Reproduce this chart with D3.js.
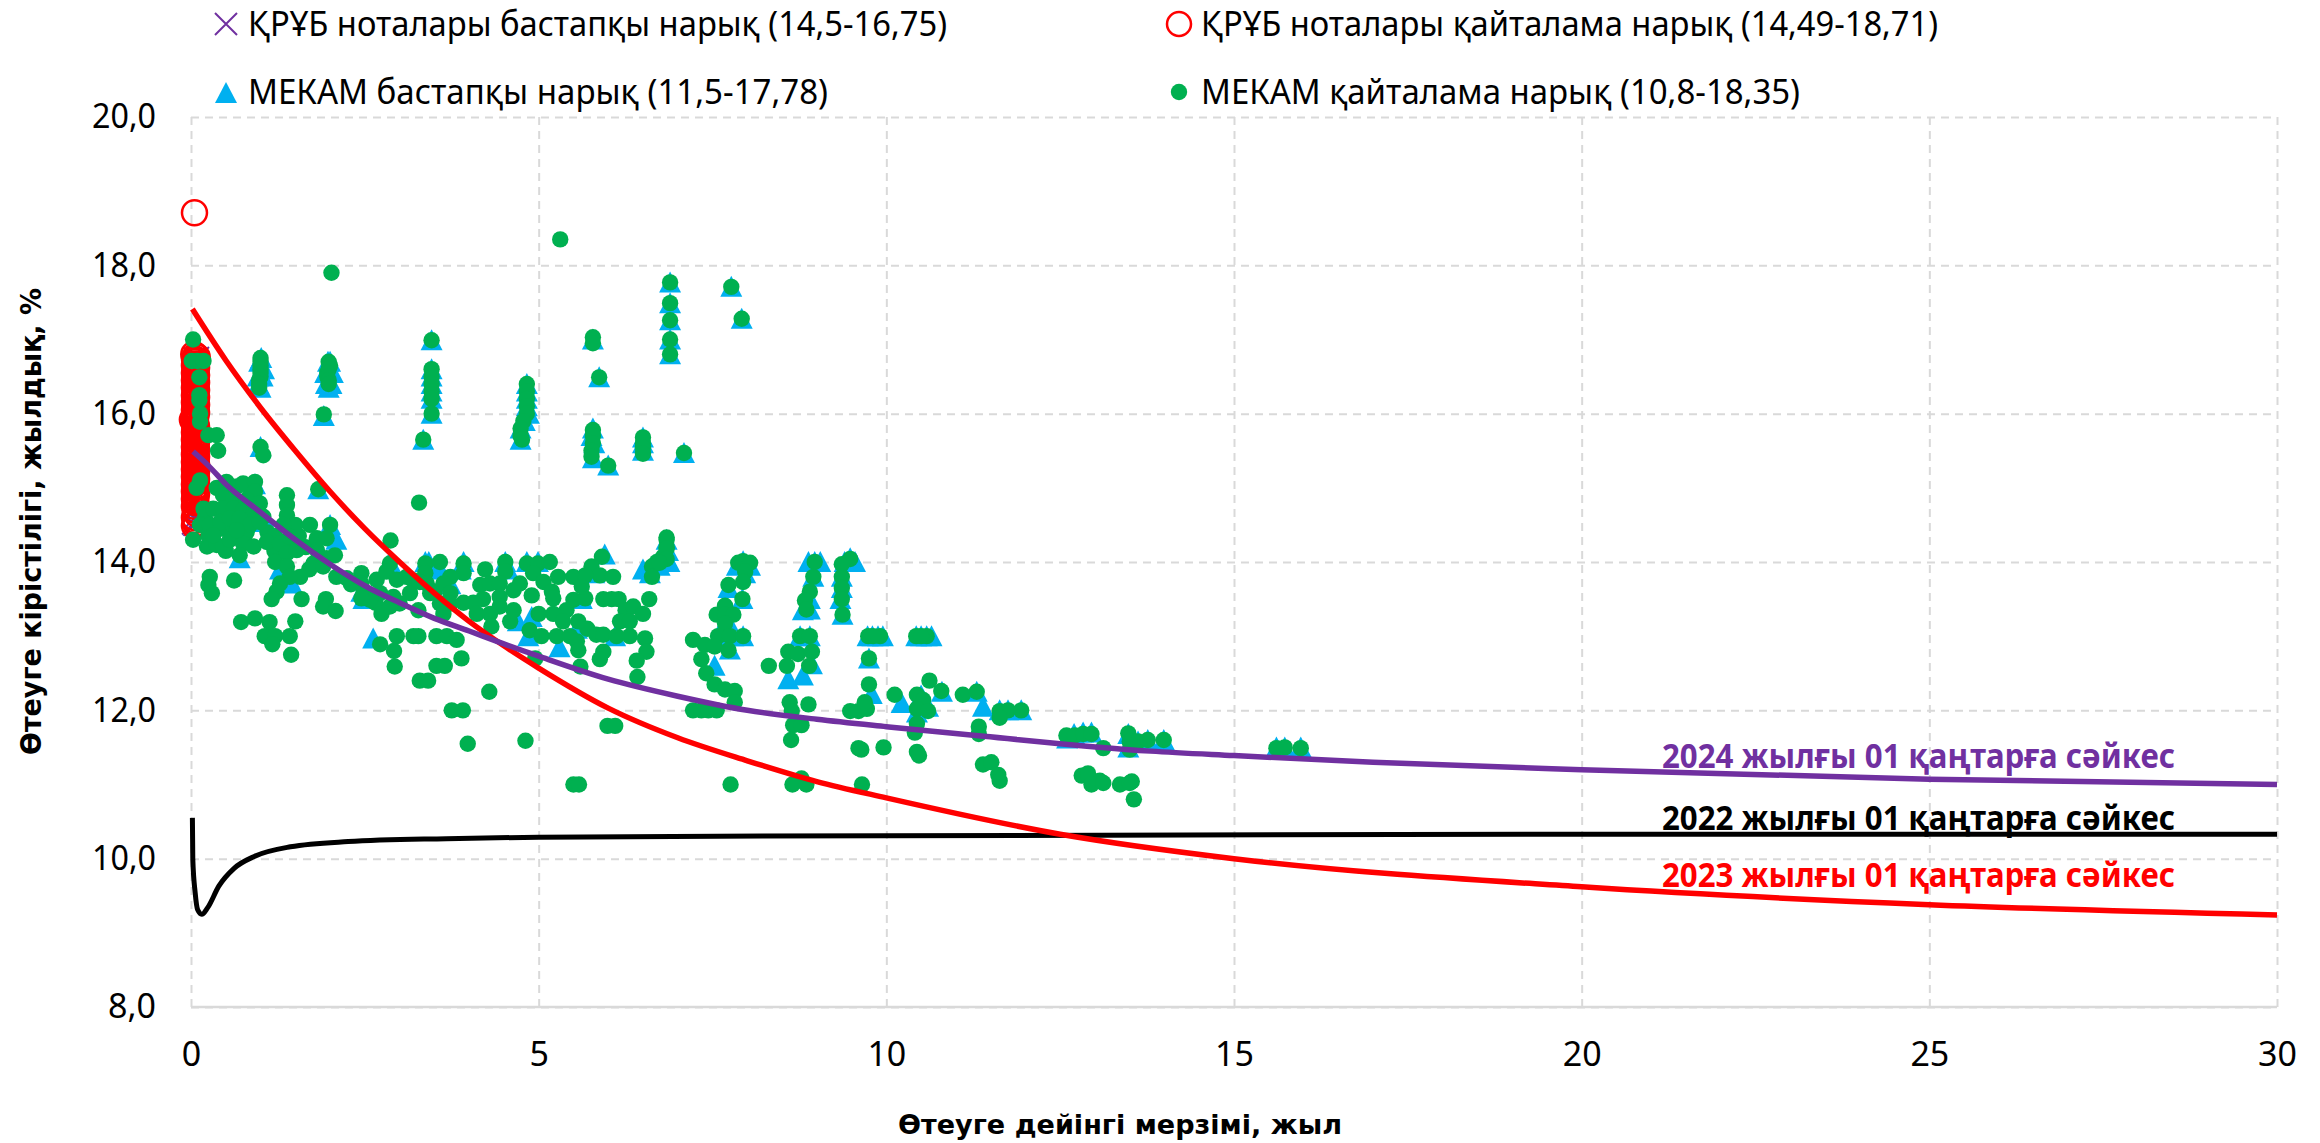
<!DOCTYPE html>
<html><head><meta charset="utf-8">
<script src="https://cdn.jsdelivr.net/npm/d3@7"></script>
<style>html,body{margin:0;background:#fff}svg{display:block}text{font-family:"Noto Sans",sans-serif}</style>
</head><body><svg id="c" width="2320" height="1143"></svg>
<script>
const xTicks=[0,5,10,15,20,25,30];
const yTicks=[8,10,12,14,16,18,20];
const legendLabels=["ҚРҰБ ноталары бастапқы нарық (14,5-16,75)","ҚРҰБ ноталары қайталама нарық (14,49-18,71)","МЕКАМ бастапқы нарық (11,5-17,78)","МЕКАМ қайталама нарық (10,8-18,35)"];
const curveLabels=["2024 жылғы 01 қаңтарға сәйкес","2022 жылғы 01 қаңтарға сәйкес","2023 жылғы 01 қаңтарға сәйкес"];
const curve2024=[[.03,15.49],[.25,15.3],[.5,15.05],[1,14.67],[1.5,14.3],[2,13.97],[2.5,13.68],[3,13.45],[3.5,13.24],[4,13.07],[4.4,12.93],[5,12.73],[6,12.42],[7,12.19],[8,12],[9,11.88],[10,11.78],[11.4,11.65],[13.8,11.45],[15,11.39],[17,11.3],[20,11.2],[25,11.07],[30,11]];
const curve2023=[[.02,17.41],[.5,16.72],[1,16.08],[1.5,15.5],[2,14.95],[2.5,14.45],[3,14],[3.5,13.58],[4,13.2],[4.5,12.87],[5,12.57],[6,12.03],[7,11.63],[8,11.32],[9,11.04],[10,10.82],[12.5,10.33],[15,10],[20,9.62],[25,9.38],[30,9.24]];
const curve2022=[[.02,10.55],[.026,9.99],[.06,9.54],[.096,9.31],[.154,9.25],[.24,9.34],[.4,9.63],[.62,9.87],[.91,10.03],[1.43,10.16],[2.26,10.23],[3.67,10.27],[5,10.29],[10,10.31],[20,10.33],[30,10.33]];
const notesPrimary=[[.05,14.5],[.03,14.52],[.09,14.55],[.06,14.6],[.04,14.68],[.1,14.75],[.07,14.85],[.05,15.2],[.06,15.6],[.07,16.1],[.04,16.55],[.1,16.7],[.05,16.75],[.1,16.75]];
const notesSecondary=[[.05,18.71],[.05,14.49],[.07,14.52],[.06,14.56],[.05,14.6],[.08,14.65],[.06,14.7],[.05,14.75],[.07,14.8],
[.05,14.85],[.07,14.87],[.06,14.9],[.08,14.92],[.05,14.95],[.07,14.97],[.06,15],[.08,15.02],[.05,15.05],[.07,15.07],[.06,15.1],[.08,15.12],[.05,15.15],[.07,15.17],[.06,15.2],[.08,15.22],[.05,15.25],[.07,15.27],[.06,15.3],[.08,15.32],[.05,15.35],[.07,15.37],[.06,15.4],[.08,15.42],[.05,15.45],[.07,15.47],[.06,15.5],[.08,15.52],[.05,15.55],[.07,15.57],[.06,15.6],[.08,15.62],[.05,15.65],[.07,15.67],[.06,15.7],[.08,15.72],[.05,15.75],[.07,15.77],[.06,15.8],[.08,15.82],[.05,15.85],[.07,15.87],[.06,15.9],[.02,15.92],[.05,15.95],[.07,15.97],[.06,16],[.08,16.02],[.05,16.05],[.07,16.07],[.06,16.1],[.08,16.12],[.05,16.15],[.07,16.17],[.06,16.2],[.08,16.22],[.05,16.25],[.07,16.27],[.06,16.3],[.08,16.32],[.05,16.35],[.07,16.37],[.06,16.4],[.08,16.42],[.05,16.45],[.07,16.47],[.06,16.5],[.08,16.52],[.05,16.55],[.07,16.57],[.06,16.6],[.08,16.62],[.05,16.65],[.07,16.67],[.06,16.7],[.08,16.72],[.05,16.74],[.09,16.76],[.07,16.78],[.04,16.8]];
const mekamPrimary=[[.97,16.4],[1,16.35],[1.03,16.5],[1.05,16.6],[.98,16.7],[1.01,16.75],[.96,16.5],[1.94,16.4],[1.98,16.35],[2.02,16.4],[2.04,16.55],[1.97,16.7],[2,16.7],[1.93,16.55],[1.91,15.97],[1,15.55],[1.83,14.98],[3.46,16.99],[3.46,16.6],[3.46,16.5],[3.46,16.4],[3.46,16.3],[3.46,16.2],[3.46,16],[3.34,15.65],[4.83,16.4],[4.83,16.3],[4.83,16.2],[4.83,16.1],[4.86,16],[4.8,15.9],[4.74,15.8],[4.74,15.65],[5.78,17],[5.87,16.49],[5.78,15.8],[5.76,15.7],[5.8,15.6],[5.78,15.4],[6,15.3],[6.5,15.68],[6.5,15.6],[6.5,15.5],[7.09,15.47],[6.89,17.77],[6.89,17.49],[6.89,17.26],[6.89,17],[6.89,16.8],[7.77,17.71],[7.92,17.28],
[.7,14.05],[.9,14.6],[1.04,14.61],[.99,14.54],[.92,15.05],[2,14.5],[2.09,14.3],[1.45,13.71],[1.28,13.9],[2.62,12.97],[2.45,13.6],[2.48,13.5],[2.86,14],[3.37,14],[3.42,14],[3.58,13.9],[3.92,14],[3.88,13.9],[3.73,13.7],[4.52,14],[4.56,13.9],[4.83,14],[4.99,14],[4.7,13.2],[4.9,13.26],[4.85,13],[5.3,12.85],[5.55,13.1],[5.95,14.1],[5.8,13.85],[6.1,13],[5.62,13.5],[6.84,14.3],[6.86,14.15],[6.88,14],[6.74,13.95],[6.6,13.85],[6.5,13.9],[7.94,14.01],[7.85,13.95],[8.04,13.95],[7.97,13.85],[7.73,13.65],[7.93,13.5],[7.68,13.4],[7.72,13.2],[7.58,13],[7.8,13],[7.94,13],[7.53,12.6],[7.75,12.82],[8.97,14],[8.88,14],[9.05,14],[8.95,13.8],[8.9,13.5],[8.8,13.35],[8.85,13.4],[8.9,13.36],[9.48,14.05],[9.4,14],[9.55,14],[9.36,13.8],[9.36,13.65],[9.34,13.5],[9.37,13.29],[8.76,13],[8.9,13],[8.59,12.42],[8.8,12.47],[8.93,12.62],[9.73,13],[9.8,13],[9.88,13],[9.95,13],[9.75,12.7],[9.79,12.22],[10.43,13],[10.5,13],[10.58,13],[10.65,13],[10.22,12.1],[10.44,11.97],[10.6,12.05],[10.5,12.2],[10.8,12.25],[11.39,12.05],[11.3,12.25],[11.63,12],[11.75,12],[11.94,12],[12.6,11.62],[12.7,11.68],[12.83,11.7],[12.95,11.7],[13.48,11.68],[13.55,11.6],[13.48,11.5],[13.62,11.58],[13.76,11.6],[13.99,11.6],[15.61,11.5],[15.73,11.5],[15.96,11.5]];
const mekamSecondary=[[.03,17],[.01,16.71],[.09,16.71],[.18,16.71],[.12,16.49],[.12,16.25],[.12,16.18],[.13,16],[.13,15.89],[.25,15.71],[.37,15.71],[.39,15.5],[.13,15.1],[.08,15],
[.2,14.6],[.45,14.45],[.6,14.5],[.8,14.4],[.25,14.35],[.5,14.15],[.85,14.9],[1.1,14.4],[1.2,14.35],[1.55,14.35],[1.65,14.2],[1.95,14.05],[1.7,13.9],[1.45,14.2],[1.2,14.15],[4.9,13.55],[5,13.3],[3.2,13.75],[3.5,13.6],[2.3,13.7],[2.65,13.45],[4.2,13.5],[5.4,13.35],[5.7,13.1],[6.25,13.35],
[1,16.75],[1,16.7],[1,16.65],[1,16.6],[1,16.55],[1,16.5],[.98,16.45],[.98,16.4],[.98,16.35],[1.98,16.7],[2,16.65],[1.98,16.6],[1.96,16.55],[1.96,16.5],[1.98,16.45],[1.98,16.4],[1.91,15.99],[1,15.55],[1.04,15.44],[1.83,14.98],[2.02,17.9],[5.31,18.35],
[3.46,16.99],[3.46,16.6],[3.46,16.5],[3.46,16.4],[3.46,16.3],[3.46,16.2],[3.46,16],[3.34,15.65],[3.28,14.8],[2.87,14.29],
[4.83,16.4],[4.83,16.3],[4.83,16.2],[4.83,16.1],[4.83,16],[4.78,15.9],[4.74,15.8],[4.74,15.7],[4.76,15.65],
[5.78,17.03],[5.78,16.95],[5.87,16.49],[5.78,15.78],[5.78,15.7],[5.78,15.6],[5.76,15.5],[5.76,15.42],[6,15.3],[6.5,15.68],[6.5,15.6],[6.5,15.54],[6.5,15.46],[7.09,15.47],
[6.89,17.77],[6.89,17.49],[6.89,17.26],[6.89,17],[6.89,16.8],[7.77,17.71],[7.92,17.28],
[.37,15],[.51,15.08],[.66,15.02],[.75,15.06],[.92,15.08],[.92,14.95],[.99,14.79],[.46,14.9],[.61,14.86],[.8,14.84],[.18,14.72],[.32,14.72],[.46,14.72],[.61,14.72],[.75,14.7],[.9,14.66],[1.04,14.61],[.13,14.5],[.27,14.5],[.42,14.54],[.56,14.59],[.7,14.59],[.85,14.5],[.99,14.54],[.03,14.3],[.23,14.21],[.37,14.23],[.46,14.21],[.56,14.3],[.75,14.25],[.9,14.21],[1.09,14.27],[.7,14.09],[.32,14.36],[.66,14.43],
[1.38,14.9],[1.38,14.77],[1.38,14.63],[1.5,14.5],[1.33,14.5],[1.28,14.25],[1.42,14.34],[1.21,14],[1.38,14.12],[1.52,14.16],[1.71,14.5],[2,14.5],[1.81,14.32],[1.95,14.32],[1.81,14.16],[2.07,14.09],[1.76,13.98],[1.9,13.94],[1.38,13.94],[1.57,13.8],[1.42,13.8],[1.28,13.71],[1.23,13.6],[1.16,13.5],[1.59,13.5],[1.5,13.2],
[.27,13.8],[.25,13.69],[.3,13.58],[.62,13.75],[.72,13.19],[.92,13.24],[1.13,13.19],[1.06,13],[1.21,13],[1.17,12.89],[1.42,13],[1.44,12.75],[1.94,13.5],[1.9,13.4],[2.08,13.34],
[2.09,13.8],[2.24,13.78],[2.45,13.85],[2.45,13.71],[2.67,13.76],[2.86,13.98],[2.81,13.87],[2.96,13.76],[3.1,13.8],[2.48,13.58],[2.57,13.49],[2.45,13.51],[2.72,13.58],[2.91,13.53],[3,13.44],[2.74,13.3],[2.86,13.4],[3.15,13.58],[3.27,13.35],[2.72,12.89],[2.96,13],[2.92,12.8],[2.93,12.59],[3.2,13],[3.27,13],[3.53,13],[3.68,13],[3.82,12.95],[3.89,12.7],[3.53,12.6],[3.65,12.6],[3.29,12.4],[3.41,12.4],[4.29,12.25],[3.75,12],[3.91,12],[3.98,11.55],[4.81,11.59],
[3.37,13.98],[3.37,13.85],[3.58,14],[3.92,13.98],[3.92,13.85],[3.39,13.71],[3.29,13.73],[3.44,13.58],[3.58,13.44],[3.73,13.8],[3.63,13.71],[3.73,13.58],[3.73,13.44],[3.63,13.3],[3.92,13.45],[4.06,13.45],[4.23,13.9],[4.16,13.69],[4.3,13.71],[4.52,14],[4.52,13.87],[4.44,13.71],[4.44,13.53],[4.64,13.62],[4.83,13.98],[4.99,13.98],[5.16,14],[4.73,13.71],[4.92,13.85],[5.07,13.73],[4.11,13.3],[4.3,13.3],[4.32,13.13],[4.59,13.2],[4.64,13.35],[4.44,13.4],[4.87,13.08],[5.04,13],[5.26,13],[5.45,13],[5.55,12.93],[5.57,12.81],[5.6,12.59],[5.83,13.02],[5.93,13.02],[5.93,12.79],[5.88,12.69],[4.95,12.7],[5.28,13.8],[5.5,13.8],[5.19,13.6],[5.21,13.51],[5.21,13.3],[5.35,13.2],[5.57,13.2],[5.5,13.49],[5.67,13.51],[5.62,13.67],[5.91,14.07],[5.76,13.94],[5.88,13.82],[6.07,13.8],[5.67,13.82],[5.93,13.5],[6.05,13.5],[6.15,13.5],[6.36,13.4],[6.5,13.3],[6.59,13.5],[6.17,13.2],[6.31,13.2],[6.12,13],[6.31,13],[6.53,12.97],[6.55,12.79],[6.41,12.67],[6.42,12.45],[5.99,11.79],[6.1,11.79],[5.5,11],[5.58,11],
[6.84,14.3],[6.84,14.2],[6.79,14.07],[6.7,14],[6.63,13.94],[6.63,13.8],[6.84,14.33],[6.84,14.18],[6.84,14.04],[6.74,13.99],
[7.94,14.01],[7.87,13.99],[8.04,13.99],[7.97,13.87],[7.94,13.73],[7.73,13.69],[7.93,13.5],[7.68,13.41],[7.56,13.29],[7.68,13.29],[7.8,13.29],[7.68,13.17],[7.58,13],[7.75,13],[7.94,13],[7.22,12.95],[7.39,12.88],[7.53,12.86],[7.73,12.81],[7.34,12.69],[7.41,12.5],[7.53,12.35],[7.68,12.28],[7.82,12.26],[7.82,12.11],[7.22,12],[7.34,12],[7.44,12],[7.56,12],[7.76,11],
[8.97,14],[8.95,13.8],[8.9,13.6],[8.83,13.48],[8.85,13.36],[9.48,14.04],[9.36,13.97],[9.36,13.8],[9.36,13.65],[9.36,13.5],[9.37,13.29],[8.76,13],[8.9,13],[8.59,12.79],[8.73,12.76],[8.93,12.79],[8.57,12.6],[8.89,12.6],[8.31,12.6],[8.61,12.11],[8.64,11.99],[8.88,12.08],[8.66,11.8],[8.78,11.8],[8.63,11.6],[8.78,11.08],[8.65,11],[8.85,11],
[9.74,13],[9.91,13],[9.81,13],[9.75,12.7],[10.43,13],[10.58,13],[10.5,13],[9.75,12.35],[9.48,11.99],[9.6,11.99],[9.72,12.02],[9.69,12.11],[10.12,12.21],[10.62,12.4],[10.79,12.26],[10.44,12.21],[10.53,12.14],[10.44,12.02],[10.6,11.99],[10.44,11.82],[10.41,11.7],[11.1,12.21],[11.3,12.25],[11.33,11.78],[11.33,11.68],[11.63,11.99],[11.75,12],[11.94,12],[11.63,11.9],[9.6,11.49],[9.64,11.47],[9.96,11.5],[10.44,11.44],[10.47,11.39],[9.65,11],
[11.39,11.27],[11.51,11.3],[11.61,11.13],[11.63,11.05],[12.59,11.66],[12.71,11.66],[12.83,11.68],[12.95,11.68],[13.12,11.49],[12.81,11.12],[12.9,11.15],[13.07,11.05],[12.95,11],[13.12,11.02],[13.36,11],[13.5,11.02],[13.53,11.04],[13.56,10.8],
[13.48,11.69],[13.5,11.58],[13.62,11.58],[13.76,11.6],[13.99,11.6],[13.5,11.47],[15.61,11.49],[15.73,11.5],[15.96,11.49]];

const svg=d3.select("#c"),L=191,R=2277,T=117,B=1007,F='"Noto Sans",sans-serif',DV='"DejaVu Sans",sans-serif';
const x=d3.scaleLinear().domain([0,30]).range([L,R]);
const y=d3.scaleLinear().domain([8,20]).range([B,T]);
const comma=d=>d3.format(".1f")(d).replace(".",",");
const styleGrid=s=>s.attr("stroke","#D9D9D9").attr("stroke-width",2).attr("stroke-dasharray","8 6");

const gx=svg.append("g").attr("transform",`translate(0,${B})`).call(d3.axisBottom(x).tickValues(xTicks).tickSize(-(B-T)).tickPadding(33).tickFormat(d3.format("d")));
const gy=svg.append("g").attr("transform",`translate(${L},0)`).call(d3.axisLeft(y).tickValues(yTicks).tickSize(-(R-L)).tickPadding(35).tickFormat(comma));
[gx,gy].forEach(g=>{g.select(".domain").remove();g.selectAll("line").call(styleGrid);
  g.selectAll("text").attr("font-size",34).attr("fill","#000").style("font-family",F);});
gx.selectAll("text").attr("dy","0.75em");
gy.selectAll("text").each(function(d){d3.select(this).attr("textLength",d<10?48:64).attr("lengthAdjust","spacingAndGlyphs");});
svg.append("line").attr("x1",L).attr("x2",R).attr("y1",B).attr("y2",B).attr("stroke","#D9D9D9").attr("stroke-width",2.5);

const tri="M0,-11L11,10L-11,10Z", cross=r=>`M${-r},${-r}L${r},${r}M${-r},${r}L${r},${-r}`;
const at=d=>`translate(${x(d[0])},${y(d[1])})`;
svg.append("g").selectAll("path").data(notesPrimary).join("path").attr("d",cross(11)).attr("transform",at).attr("fill","none").attr("stroke","#7030A0").attr("stroke-width",2);
svg.append("g").selectAll("circle").data(notesSecondary).join("circle").attr("cx",d=>x(d[0])).attr("cy",d=>y(d[1])).attr("r",12.5).attr("fill","none").attr("stroke","#FF0000").attr("stroke-width",2.5);
svg.append("g").selectAll("path").data(mekamPrimary).join("path").attr("d",tri).attr("transform",at).attr("fill","#00B0F0");
svg.append("g").selectAll("circle").data(mekamSecondary).join("circle").attr("cx",d=>x(d[0])).attr("cy",d=>y(d[1])).attr("r",8.2).attr("fill","#00B050");

const line=d3.line().x(d=>x(d[0])).y(d=>y(d[1])).curve(d3.curveMonotoneX);
[[curve2022,"#000000",5],[curve2023,"#FF0000",5.5],[curve2024,"#7030A0",5.5]].forEach(([c,col,w])=>
  svg.append("path").attr("d",line(c)).attr("fill","none").attr("stroke",col).attr("stroke-width",w));

const lg=[[248,36,699],[1201,36,737],[248,104,580],[1201,104,599]];
lg.forEach((p,i)=>svg.append("text").attr("x",p[0]).attr("y",p[1]).attr("font-size",34).attr("textLength",p[2]).attr("lengthAdjust","spacingAndGlyphs").text(legendLabels[i]));
svg.append("path").attr("d",cross(11)).attr("transform","translate(226,24)").attr("fill","none").attr("stroke","#7030A0").attr("stroke-width",2);
svg.append("circle").attr("cx",1179).attr("cy",24).attr("r",12).attr("fill","none").attr("stroke","#FF0000").attr("stroke-width",2.5);
svg.append("path").attr("d",tri).attr("transform","translate(226,93)").attr("fill","#00B0F0");
svg.append("circle").attr("cx",1179).attr("cy",92).attr("r",8.2).attr("fill","#00B050");

[[768,"#7030A0"],[830,"#000000"],[887,"#FF0000"]].forEach((p,i)=>svg.append("text").attr("x",1662).attr("y",p[0]).attr("font-size",34).attr("font-weight",700).attr("fill",p[1]).attr("textLength",513).attr("lengthAdjust","spacingAndGlyphs").text(curveLabels[i]));

svg.append("text").attr("transform","translate(41,755) rotate(-90)").style("font-family",DV).attr("font-size",29).attr("font-weight",700).attr("textLength",467).attr("lengthAdjust","spacingAndGlyphs").text("Өтеуге кірістілігі, жылдық, %");
svg.append("text").attr("x",898).attr("y",1134).style("font-family",DV).attr("font-size",26).attr("font-weight",700).attr("textLength",444).attr("lengthAdjust","spacingAndGlyphs").text("Өтеуге дейінгі мерзімі, жыл");
</script></body></html>
